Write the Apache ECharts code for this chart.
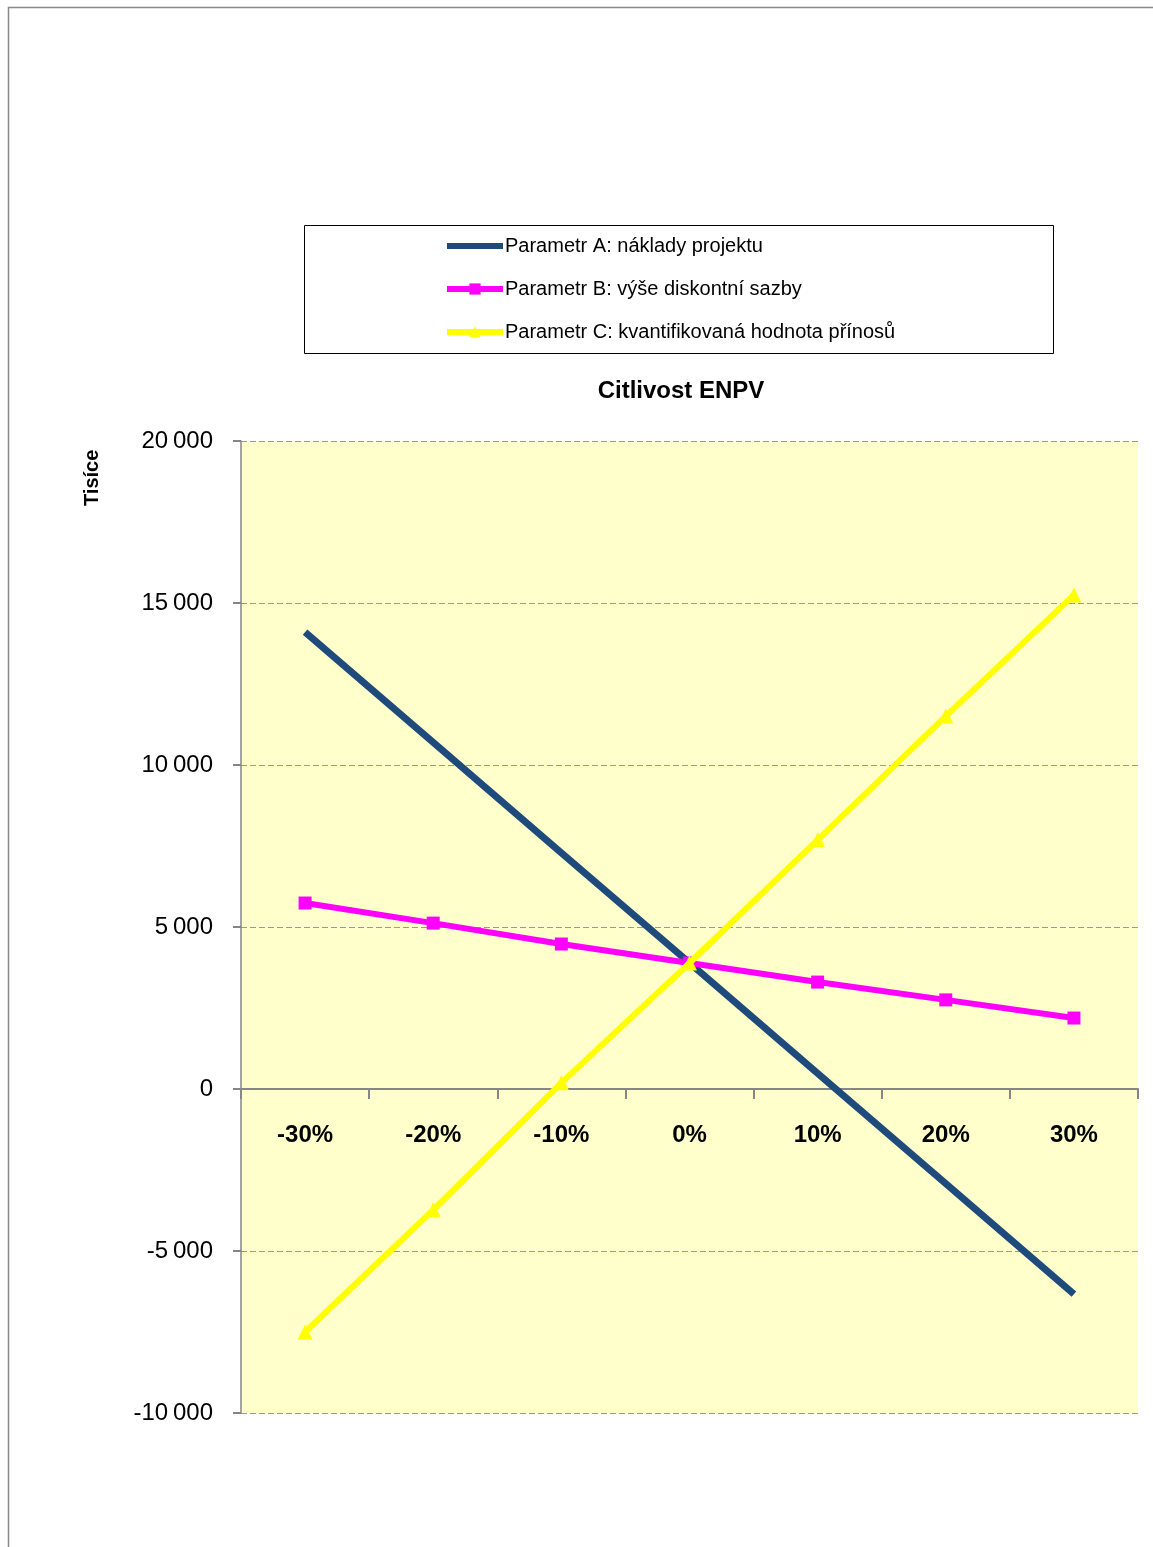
<!DOCTYPE html>
<html>
<head>
<meta charset="utf-8">
<script src="https://cdn.jsdelivr.net/npm/echarts@6/dist/echarts.min.js"></script>
<style>
  html, body { margin: 0; padding: 0; background: #ffffff; }
  #chart { width: 1153px; height: 1547px; }
</style>
</head>
<body>
<div id="chart"></div>
<script>
// Sensitivity of ENPV (thousands) to parameter change
const categories = ['-30%', '-20%', '-10%', '0%', '10%', '20%', '30%'];
const seriesNames = [
  'Parametr A: náklady projektu',
  'Parametr B: výše diskontní sazby',
  'Parametr C: kvantifikovaná hodnota přínosů'
];
const costsA    = [14100, 10700, 7290, 3890, 480, -2920, -6330];
const discountB = [5740, 5120, 4475, 3890, 3300, 2750, 2190];
const benefitsC = [-7500, -3730, 190, 3890, 7690, 11510, 15250];
const yTicks = { min: -10000, max: 20000, step: 5000 };

const FONT = '"Liberation Sans", "DejaVu Sans", sans-serif';
const NAVY = '#1F4A7C', PINK = '#FF00FF', YELLOW = '#FFFF00';

const chart = echarts.init(document.getElementById('chart'), null, { renderer: 'canvas' });

function fmtThousands(v) {
  const s = String(Math.abs(v));
  const body = s.length > 3 ? s.slice(0, s.length - 3) + '\u2009' + s.slice(-3) : s;
  return (v < 0 ? '-' : '') + body;
}

chart.setOption({
  animation: false,
  backgroundColor: '#ffffff',
  legend: {
    orient: 'vertical',
    left: 439,
    top: 231,
    itemWidth: 56,
    itemHeight: 14,
    itemGap: 23,
    data: [
      // plain line key: no marker on this series
      { name: seriesNames[0], itemStyle: { color: 'rgba(0,0,0,0)', borderWidth: 0 } },
      { name: seriesNames[1] },
      { name: seriesNames[2] }
    ],
    lineStyle: { width: 6 },
    textStyle: { fontFamily: FONT, fontSize: 20, color: '#000', padding: [0, 0, 0, -3] }
  },
  grid: { left: 241, right: 15, top: 441, bottom: 134, containLabel: false,
          show: true, backgroundColor: '#FFFFCC', borderWidth: 0 },
  xAxis: {
    type: 'category',
    data: categories,
    boundaryGap: true,
    axisLine: { onZero: false, lineStyle: { color: '#868686', width: 2 } },
    axisTick: { show: true, length: 10, interval: 0, lineStyle: { color: '#868686', width: 2 } },
    axisLabel: { margin: 34, fontFamily: FONT, fontSize: 24, fontWeight: 'bold', color: '#000' },
    splitLine: { show: false }
  },
  yAxis: {
    type: 'value',
    min: yTicks.min,
    max: yTicks.max,
    interval: yTicks.step,
    axisLine: { show: true, lineStyle: { color: '#868686', width: 1.5 } },
    axisTick: { show: true, length: 8, lineStyle: { color: '#868686', width: 2 } },
    axisLabel: { margin: 28, fontFamily: FONT, fontSize: 24, color: '#000', formatter: fmtThousands },
    splitLine: { show: true, lineStyle: { color: '#9a9a9a', type: [6, 3], width: 1.2 } }
  },
  series: [
    {
      name: seriesNames[0], type: 'line', data: costsA,
      color: NAVY,
      lineStyle: { width: 7, color: NAVY },
      symbol: 'none',
      itemStyle: { color: NAVY }, z: 3
    },
    {
      name: seriesNames[1], type: 'line', data: discountB,
      color: PINK,
      lineStyle: { width: 6, color: PINK },
      symbol: 'rect', symbolSize: 13,
      itemStyle: { color: PINK }, z: 4
    },
    {
      name: seriesNames[2], type: 'line', data: benefitsC,
      color: YELLOW,
      lineStyle: { width: 6, color: YELLOW },
      symbol: 'triangle', symbolSize: 15,
      itemStyle: { color: YELLOW }, z: 5
    }
  ],
  graphic: [
    // page frame
    { type: 'polyline', silent: true,
      shape: { points: [[8.5, 1547], [8.5, 7.5], [1153, 7.5]] },
      style: { stroke: '#888888', lineWidth: 1.5, fill: null } },
    // legend frame
    { type: 'rect', silent: true, z: -1,
      shape: { x: 304.5, y: 225.5, width: 749, height: 128 },
      style: { stroke: '#000000', lineWidth: 1, fill: '#ffffff' } },
    // chart title, centred over the plot area
    { type: 'text', silent: true, x: 681, y: 391,
      style: { text: 'Citlivost ENPV', font: 'bold 24px ' + FONT, fill: '#000', align: 'center', verticalAlign: 'middle' } },
    // value axis unit
    { type: 'text', silent: true, x: 82, y: 506, rotation: Math.PI / 2,
      style: { text: 'Tisíce', font: 'bold 20px ' + FONT, fill: '#000', align: 'left', verticalAlign: 'top' } }
  ]
});

// Lift the category axis (line, ticks and labels) to the zero value line.
const zeroPx = chart.convertToPixel({ yAxisIndex: 0 }, 0);
const bottomPx = chart.convertToPixel({ yAxisIndex: 0 }, yTicks.min);
chart.setOption({ xAxis: { offset: -(bottomPx - zeroPx) } });
</script>
</body>
</html>
